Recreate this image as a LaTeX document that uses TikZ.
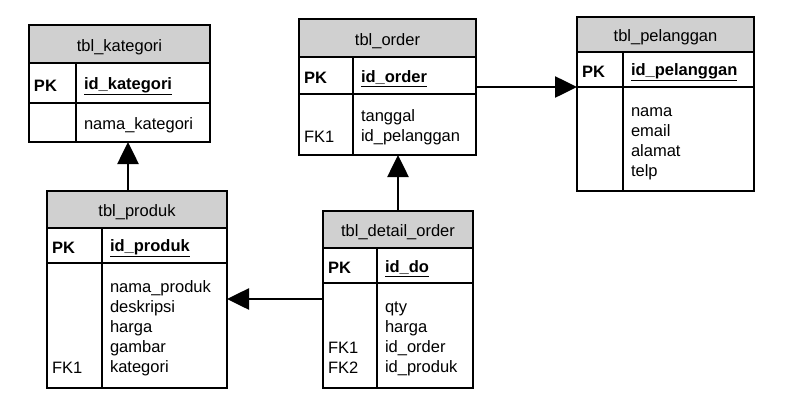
\documentclass[tikz,border=0pt]{standalone}
\usepackage{fontspec}
\setmainfont{Liberation Sans}
\usetikzlibrary{positioning,arrows.meta}

\definecolor{hdr}{RGB}{208,208,208}
\newcommand\rowst{\rule[-2pt]{0pt}{20pt}}
\newcommand\tblfont{\fontsize{16.5}{20}\selectfont\lineskiplimit=-20pt\relax}

\begin{document}
\begin{tikzpicture}[x=1pt,y=-1pt,
        font=\tblfont,
        ttl/.style={draw, fill=hdr, line width=1.1pt, outer sep=0pt,
                        inner sep=0pt, anchor=north west},
        keyc/.style={draw, line width=1.1pt, outer sep=0pt,
                        inner xsep=5pt, inner ysep=0pt, align=left},
        attc/.style={draw, line width=1.1pt, outer sep=0pt,
                        inner xsep=8pt, inner ysep=0pt, align=left},
        link/.style={line width=2.6pt, -{Triangle[length=22pt,width=21pt]}}]
    \useasboundingbox (0,0) rectangle (793,413);

    % tbl_kategori
    \node[ttl, minimum width=181, minimum height=38] (kat-t) at (29,25) {\rowst tbl\_kategori};
    \node[keyc, text width=37pt, minimum height=40, below right=0pt of kat-t.south west] (kat-pk) {\rowst\textbf{PK}};
    \node[attc, text width=118pt, minimum height=40, right=0pt of kat-pk] (kat-id) {\rowst\textbf{\underline{id\_kategori}}};
    \node[keyc, text width=37pt, minimum height=39, below=0pt of kat-pk] (kat-fk) {\rowst};
    \node[attc, text width=118pt, minimum height=39, right=0pt of kat-fk] (kat-at) {\rowst nama\_kategori};

    % tbl_order
    \node[ttl, minimum width=177, minimum height=38] (ord-t) at (299,19) {\rowst tbl\_order};
    \node[keyc, text width=44pt, minimum height=37, below right=0pt of ord-t.south west] (ord-pk) {\rowst\textbf{PK}};
    \node[attc, text width=107pt, minimum height=37, right=0pt of ord-pk] (ord-id) {\rowst\textbf{\underline{id\_order}}};
    \node[keyc, text width=44pt, minimum height=61, below=0pt of ord-pk] (ord-fk) {\rowst\\\rowst FK1};
    \node[attc, text width=107pt, minimum height=61, right=0pt of ord-fk] (ord-at) {\rowst tanggal\\\rowst id\_pelanggan};

    % tbl_pelanggan
    \node[ttl, minimum width=177, minimum height=35] (pel-t) at (577,17) {\rowst tbl\_pelanggan};
    \node[keyc, text width=36pt, minimum height=35, below right=0pt of pel-t.south west] (pel-pk) {\rowst\textbf{PK}};
    \node[attc, text width=115pt, minimum height=35, right=0pt of pel-pk] (pel-id) {\rowst\textbf{\underline{id\_pelanggan}}};
    \node[keyc, text width=36pt, minimum height=104, below=0pt of pel-pk] (pel-fk) {\rowst};
    \node[attc, text width=115pt, minimum height=104, right=0pt of pel-fk] (pel-at) {\rowst nama\\\rowst email\\\rowst alamat\\\rowst telp};

    % tbl_produk
    \node[ttl, minimum width=180, minimum height=37] (prd-t) at (47,191) {\rowst tbl\_produk};
    \node[keyc, text width=45pt, minimum height=35, below right=0pt of prd-t.south west] (prd-pk) {\rowst\textbf{PK}};
    \node[attc, text width=109pt, minimum height=35, right=0pt of prd-pk] (prd-id) {\rowst\textbf{\underline{id\_produk}}};
    \node[keyc, text width=45pt, minimum height=125, below=0pt of prd-pk] (prd-fk) {\rowst\\\rowst\\\rowst\\\rowst\\\rowst FK1};
    \node[attc, text width=109pt, minimum height=125, right=0pt of prd-fk] (prd-at) {\rowst nama\_produk\\\rowst deskripsi\\\rowst harga\\\rowst gambar\\\rowst kategori};

    % tbl_detail_order
    \node[ttl, minimum width=150, minimum height=37] (det-t) at (323,211) {\rowst tbl\_detail\_order};
    \node[keyc, text width=44pt, minimum height=35, below right=0pt of det-t.south west] (det-pk) {\rowst\textbf{PK}};
    \node[attc, text width=80pt, minimum height=35, right=0pt of det-pk] (det-id) {\rowst\textbf{\underline{id\_do}}};
    \node[keyc, text width=44pt, minimum height=105, below=0pt of det-pk] (det-fk) {\rowst\\\rowst\\\rowst FK1\\\rowst FK2};
    \node[attc, text width=80pt, minimum height=105, right=0pt of det-fk] (det-at) {\rowst qty\\\rowst harga\\\rowst id\_order\\\rowst id\_produk};

    % relasi
    \draw[link] ([xshift=-9pt]prd-t.north) -- ([xshift=-9pt]prd-t.north |- kat-fk.south);
    \draw[link] (det-t.north) -- (det-t.north |- ord-fk.south);
    \draw[link] (pel-fk.north west -| ord-id.east) -- (pel-fk.north west);
    \draw[link] ([yshift=-16pt]det-fk.north west) -- ([yshift=-16pt]det-fk.north west -| prd-at.east);
\end{tikzpicture}
\end{document}
